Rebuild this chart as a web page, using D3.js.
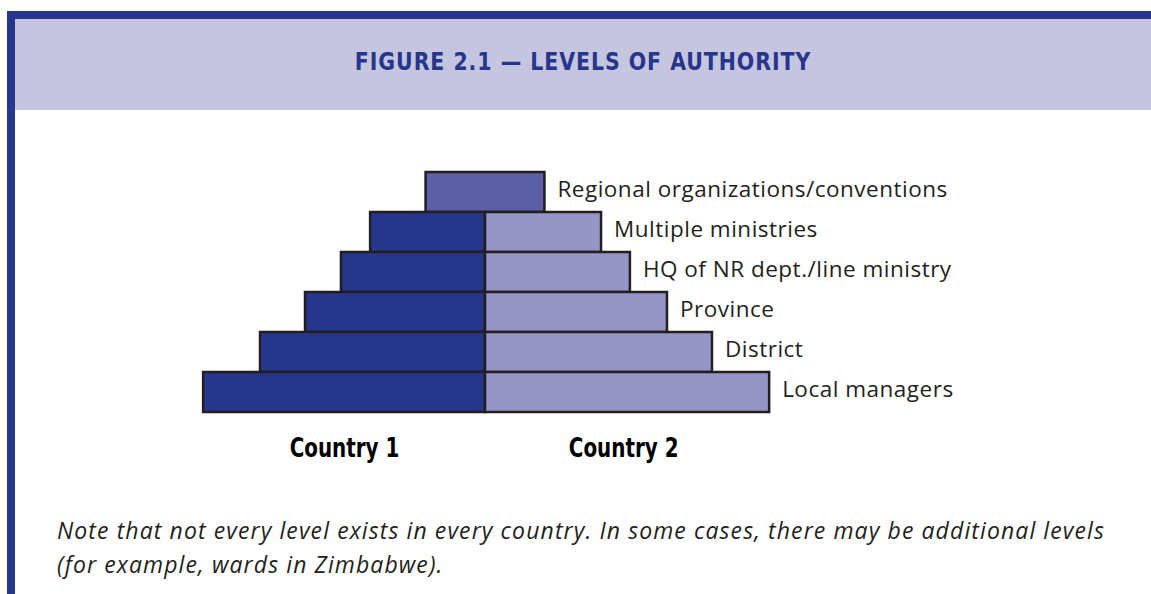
<!DOCTYPE html>
<html>
<head>
<meta charset="utf-8">
<script src="https://cdn.jsdelivr.net/npm/d3@7"></script>
<style>
  body { margin: 0; background: #fff; }
  svg { display: block; }
</style>
</head>
<body>
<div id="myChart"></div>
<script>
// levels, top to bottom
var levels = ["Regional organizations/conventions", "Multiple ministries", "HQ of NR dept./line ministry", "Province", "District", "Local managers"];
// relative bar widths (widest = 100), null where the level is shared
var country1 = [null, 40.6, 50.9, 63.6, 79.5, 99.6];
var country2 = [null, 41.0, 51.2, 64.3, 80.2, 100.4];
// shared regional level: extent to the left / right of centre
var regional = [21, 21];
var countries = ["Country 1", "Country 2"];
var title = "FIGURE 2.1 \u2014 LEVELS OF AUTHORITY";
var note = ["Note that not every level exists in every country. In some cases, there may be additional levels",
            "(for example, wards in Zimbabwe)."];

var width = 1151, height = 594;
var navy = "#25368c", lilac = "#9595c6", mid = "#5d5fa6", band = "#c5c5e0", edge = "#231f20";
var condensed = "'Liberation Sans Narrow', 'DejaVu Sans Condensed', sans-serif";

var svg = d3.select("#myChart").append("svg")
  .attr("width", width)
  .attr("height", height);

// header band and frame
svg.append("rect").attr("x", 7).attr("y", 11).attr("width", width - 7).attr("height", 99).attr("fill", band);
svg.append("rect").attr("x", 7).attr("y", 11).attr("width", width - 7).attr("height", 8).attr("fill", navy);
svg.append("rect").attr("x", 7).attr("y", 11).attr("width", 8).attr("height", height - 11).attr("fill", navy);

svg.append("text")
  .attr("transform", "translate(583,70) scale(0.95,1)")
  .attr("text-anchor", "middle")
  .style("font-family", condensed)
  .style("font-weight", "bold")
  .style("font-size", "24px")
  .style("letter-spacing", "1px")
  .attr("fill", navy)
  .text(title);

// scales
var cx = 485;
var x = d3.scaleLinear().domain([0, 100]).range([0, 283]);
var y = d3.scaleBand().domain(levels).range([172, 412]);

var rows = levels.map(function(name, i) {
  return { name: name, left: country1[i], right: country2[i] };
});

var g = svg.append("g");

// regional (shared) bar
g.append("rect")
  .attr("x", cx - x(regional[0]))
  .attr("y", y(levels[0]))
  .attr("width", x(regional[0]) + x(regional[1]))
  .attr("height", y.bandwidth())
  .attr("fill", mid)
  .attr("stroke", edge)
  .attr("stroke-width", 2.5);

var split = rows.filter(function(d) { return d.left != null; });

g.selectAll(".left")
  .data(split)
  .enter()
  .append("rect")
  .attr("class", "left")
  .attr("x", function(d) { return cx - x(d.left); })
  .attr("y", function(d) { return y(d.name); })
  .attr("width", function(d) { return x(d.left); })
  .attr("height", y.bandwidth())
  .attr("fill", navy)
  .attr("stroke", edge)
  .attr("stroke-width", 2.5);

g.selectAll(".right")
  .data(split)
  .enter()
  .append("rect")
  .attr("class", "right")
  .attr("x", cx)
  .attr("y", function(d) { return y(d.name); })
  .attr("width", function(d) { return x(d.right); })
  .attr("height", y.bandwidth())
  .attr("fill", lilac)
  .attr("stroke", edge)
  .attr("stroke-width", 2.5);

// level labels
g.selectAll(".lab")
  .data(rows)
  .enter()
  .append("text")
  .attr("class", "lab")
  .attr("x", function(d) { return cx + x(d.right == null ? regional[1] : d.right) + 13; })
  .attr("y", function(d) { return y(d.name) + y.bandwidth() / 2 + 5; })
  .style("font-family", "'Open Sans', sans-serif")
  .style("font-size", "22.5px")
  .style("letter-spacing", "0.5px")
  .attr("fill", "#231f20")
  .text(function(d) { return d.name; });

// country labels
svg.selectAll(".country")
  .data(countries)
  .enter()
  .append("text")
  .attr("class", "country")
  .attr("transform", function(d, i) {
    var px = i == 0 ? cx - x(50) + 1 : cx + x(49);
    return "translate(" + px + ",457) scale(0.82,1)";
  })
  .attr("text-anchor", "middle")
  .style("font-family", condensed)
  .style("font-weight", "bold")
  .style("font-size", "27px")
  .attr("fill", "#000")
  .text(function(d) { return d; });

// note
svg.selectAll(".note")
  .data(note)
  .enter()
  .append("text")
  .attr("class", "note")
  .attr("x", 57)
  .attr("y", function(d, i) { return 539 + i * 34; })
  .style("font-family", "'Open Sans', sans-serif")
  .style("font-style", "italic")
  .style("font-size", "23px")
  .style("letter-spacing", "1.1px")
  .attr("fill", "#231f20")
  .text(function(d) { return d; });
</script>
</body>
</html>
